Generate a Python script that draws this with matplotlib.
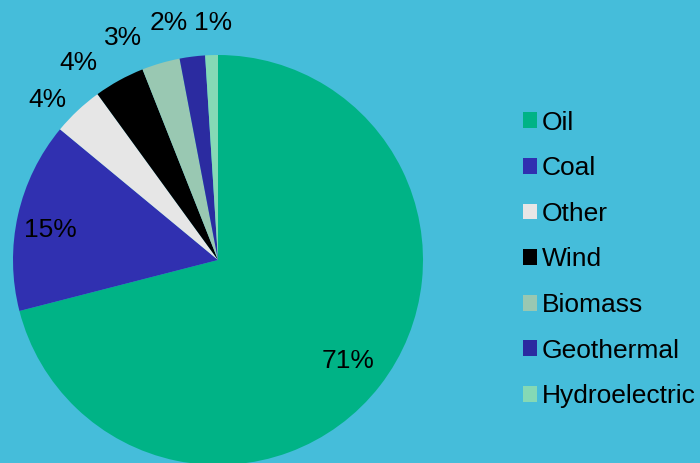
import numpy as np
import matplotlib
matplotlib.use('Agg')
import matplotlib.pyplot as plt
from matplotlib.patches import Patch

# Data
sources = ['Oil', 'Coal', 'Other', 'Wind', 'Biomass', 'Geothermal', 'Hydroelectric']
shares = [71, 15, 4, 4, 3, 2, 1]
colors = ['#00B386', '#3030B0', '#E6E6E6', '#000000', '#99C8B2', '#2B2BA0', '#85D9B5']

# label placement (radius factor, angle offset in degrees)
label_r = [0.80, 0.83, 1.14, 1.18, 1.18, 1.18, 1.155]
label_shift = [0, 2.5, 3.5, 6.5, 7, 4.5, -0.5]

bg = '#45BDDA'
plt.rcParams['font.family'] = ['Liberation Sans', 'DejaVu Sans']

fig = plt.figure(figsize=(7, 4.63), dpi=100, facecolor=bg)
ax = fig.add_axes([13/700, -2/463, 410/700, 410/463])
ax.set_facecolor(bg)

wedges, _ = ax.pie(shares, colors=colors, startangle=90, counterclock=False,
                   radius=1, wedgeprops=dict(linewidth=0))
ax.set_xlim(-1, 1)
ax.set_ylim(-1, 1)
ax.set_aspect('equal')
ax.axis('off')

for w, val, r, s in zip(wedges, shares, label_r, label_shift):
    ang = np.deg2rad((w.theta1 + w.theta2) / 2 + s)
    ax.text(r * np.cos(ang), r * np.sin(ang), f'{val}%', ha='center', va='center',
            fontsize=19, color='black', clip_on=False)

handles = [Patch(facecolor=c, edgecolor='none') for c in colors]
fig.legend(handles, sources, loc='upper left', bbox_to_anchor=(512/700, 1 - 100/463),
           frameon=False, fontsize=19, handlelength=0.55, handleheight=0.55,
           handletextpad=0.18, labelspacing=0.82, borderaxespad=0)

fig.savefig('out.png', dpi=100, facecolor=bg)
